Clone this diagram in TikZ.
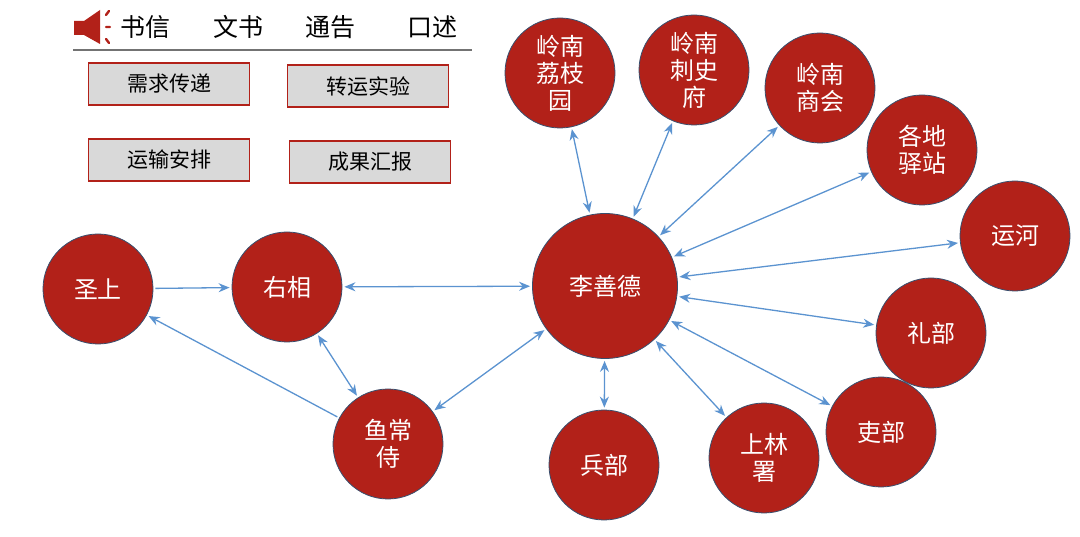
\documentclass[tikz,border=0pt]{standalone}
\usepackage{fontspec}
\setmainfont{Noto Sans CJK SC}
\usetikzlibrary{arrows.meta}
\definecolor{cred}{HTML}{B22119}
\definecolor{cedge}{HTML}{5B83B8}
\definecolor{carrow}{HTML}{5B93D0}
\tikzset{
  person/.style={circle,fill=cred,draw=cedge!60!black,line width=0.8pt,text=white,font=\fontsize{24}{27}\selectfont,align=center,inner sep=0pt,minimum size=#1},
  person/.default=110pt,
  link/.style={draw=carrow,line width=1.3pt,{Stealth[length=11pt,width=9pt]}-{Stealth[length=11pt,width=9pt]},shorten <=2pt,shorten >=2pt},
  onelink/.style={draw=carrow,line width=1.3pt,-{Stealth[length=11pt,width=9pt]},shorten <=2pt,shorten >=2pt},
  tag/.style={draw=cred,line width=1.2pt,fill=black!15,minimum width=161pt,minimum height=42pt,font=\fontsize{21}{24}\selectfont,inner sep=0pt},
  leg/.style={font=\fontsize{25}{28}\selectfont,inner sep=0pt}
}
\begin{document}
\begin{tikzpicture}[x=1pt,y=-1pt]
\useasboundingbox (0,0) rectangle (1080,537);
% legend
\fill[cred] (74,21) -- (84,21) -- (100,10) -- (100,44) -- (84,35) -- (74,35) -- cycle;
\draw[cred,line width=2.4pt,line cap=round] (106,15) -- (109,11) (106,27) -- (110,27) (106,39) -- (109,43);
\node[leg] (w1) at (145,27) {书信};
\node[leg] (w2) at (238,27) {文书};
\node[leg] (w3) at (330,27) {通告};
\node[leg] (w4) at (432,27) {口述};
\coordinate (l1) at (73,50);
\coordinate (l2) at (472,50);
\draw[black!55,line width=1.2pt] (l1) -- (l2);
\node[tag] (t1) at (169,84) {需求传递};
\node[tag] (t2) at (368,86) {转运实验};
\node[tag] (t3) at (169,160) {运输安排};
\node[tag] (t4) at (370,162) {成果汇报};
% nodes
\node[person=145pt] (li) at (605,286) {李善德};
\node[person] (sh) at (98,289) {圣上};
\node[person] (yx) at (287,287) {右相};
\node[person] (yc) at (388,444) {鱼常\\侍};
\node[person] (bb) at (604,465) {兵部};
\node[person] (sl) at (764,458) {上林\\署};
\node[person] (lb2) at (881,432) {吏部};
\node[person] (lb) at (931,333) {礼部};
\node[person] (yh) at (1015,236) {运河};
\node[person] (yz) at (922,150) {各地\\驿站};
\node[person] (sh2) at (820,88) {岭南\\商会};
\node[person] (cs) at (694,70) {岭南\\刺史\\府};
\node[person] (lz) at (560,73) {岭南\\荔枝\\园};
% connectors
\draw[onelink] (sh) -- (yx);
\draw[onelink] (yc) -- (sh);
\draw[link] (yx) -- (li);
\draw[link] (yx) -- (yc);
\draw[link] (yc) -- (li);
\draw[link] (lz) -- (li);
\draw[link] (cs) -- (li);
\draw[link] (sh2) -- (li);
\draw[link] (yz) -- (li);
\draw[link] (yh) -- (li);
\draw[link] (lb) -- (li);
\draw[link] (lb2) -- (li);
\draw[link] (sl) -- (li);
\draw[link] (bb) -- (li);
\end{tikzpicture}
\end{document}
